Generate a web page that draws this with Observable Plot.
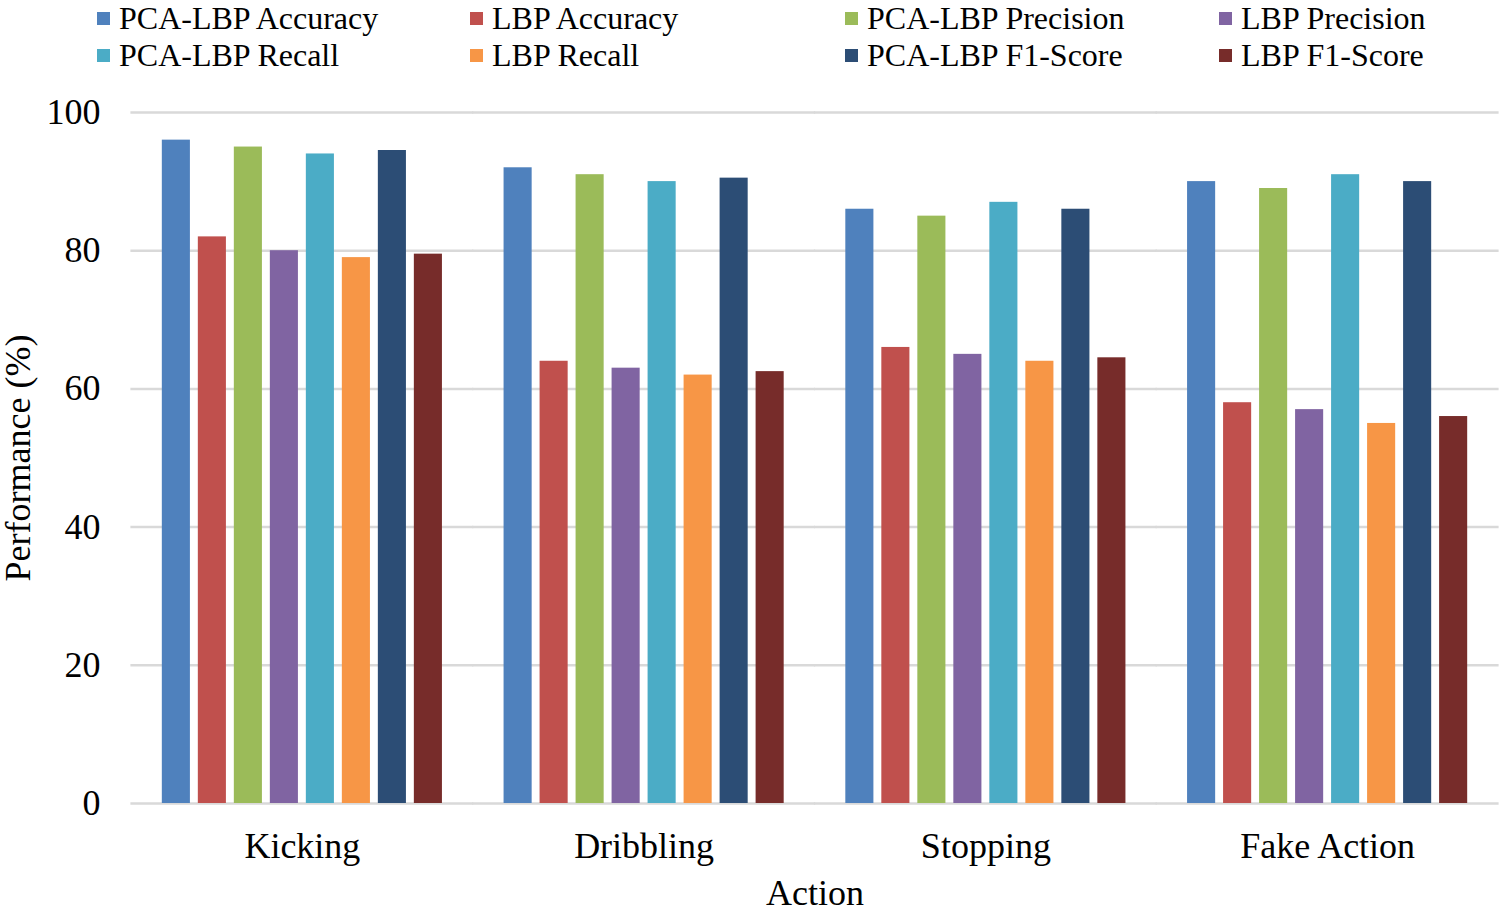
<!DOCTYPE html>
<html>
<head>
<meta charset="utf-8">
<script src="https://cdn.jsdelivr.net/npm/d3@7"></script>
<script src="https://cdn.jsdelivr.net/npm/@observablehq/plot@0.6"></script>
<style>
  html, body { margin: 0; padding: 0; background: #fff; }
  #wrap { width: 1499px; height: 914px; position: relative; font-family: "Liberation Serif", "Times New Roman", serif; color: #000; }
  #legend { position: relative; width: 1499px; height: 80px; }
  .item { position: absolute; height: 36px; display: flex; align-items: center; font-size: 32px; line-height: 36px; white-space: nowrap; }
  .sw { width: 13px; height: 13px; margin-right: 9px; flex: none; position: relative; top: 0px; }
  #chart svg { display: block; }
</style>
</head>
<body>
<div id="wrap">
  <div id="legend"></div>
  <div id="chart"></div>
</div>
<script>
// ---- data ----
const actions = ["Kicking", "Dribbling", "Stopping", "Fake Action"];
const series = ["PCA-LBP Accuracy", "LBP Accuracy", "PCA-LBP Precision", "LBP Precision",
                "PCA-LBP Recall", "LBP Recall", "PCA-LBP F1-Score", "LBP F1-Score"];
const colors = ["#4F81BD", "#C0504D", "#9BBB59", "#8064A2", "#4BACC6", "#F79646", "#2C4D75", "#772C2A"];
const pcaLbpAccuracy  = [96, 92, 86, 90];
const lbpAccuracy     = [82, 64, 66, 58];
const pcaLbpPrecision = [95, 91, 85, 89];
const lbpPrecision    = [80, 63, 65, 57];
const pcaLbpRecall    = [94, 90, 87, 91];
const lbpRecall       = [79, 62, 64, 55];
const pcaLbpF1        = [94.5, 90.5, 86, 90];
const lbpF1           = [79.5, 62.5, 64.5, 56];
const yTicks = [0, 20, 40, 60, 80, 100];
const yLabel = "Performance (%)";
const xLabel = "Action";

const values = [pcaLbpAccuracy, lbpAccuracy, pcaLbpPrecision, lbpPrecision,
                pcaLbpRecall, lbpRecall, pcaLbpF1, lbpF1];
const data = [];
actions.forEach((a, i) => series.forEach((s, j) => data.push({action: a, series: s, value: values[j][i]})));

// ---- legend ----
const legend = document.getElementById("legend");
const colX = [97, 470, 845, 1219];
const rowY = [0, 37];
series.forEach((s, j) => {
  const col = j % 4, row = Math.floor(j / 4);
  const it = document.createElement("div");
  it.className = "item";
  it.style.left = colX[col] + "px";
  it.style.top = rowY[row] + "px";
  const sw = document.createElement("span");
  sw.className = "sw";
  sw.style.background = colors[j];
  const tx = document.createElement("span");
  tx.textContent = s;
  it.appendChild(sw); it.appendChild(tx);
  legend.appendChild(it);
});

// ---- chart ----
const chart = Plot.plot({
  width: 1499,
  height: 834,
  marginTop: 32,
  marginBottom: 111,
  marginLeft: 131,
  marginRight: 1,
  style: {fontFamily: "'Liberation Serif', 'Times New Roman', serif", fontSize: "36px", color: "#000", background: "#fff", overflow: "visible"},
  fx: {domain: actions, paddingInner: 0.134, paddingOuter: 0.067, round: false, label: null},
  x: {domain: series, padding: 0.22, round: false, axis: null},
  y: {domain: [0, 100], ticks: yTicks, axis: null},
  color: {domain: series, range: colors},
  marks: [
    Plot.ruleY(yTicks, {y: d => d, stroke: "#d9d9d9", strokeWidth: 2.5, insetLeft: -23.5, insetRight: -23.5}),
    Plot.barY(data, {fx: "action", x: "series", y: "value", fill: "series"}),
    Plot.axisY({ticks: yTicks, anchor: "left", tickSize: 0, tickPadding: 54, fontSize: 36,
                label: yLabel, labelArrow: "none", labelAnchor: "center", labelOffset: 150}),
    Plot.axisFx({anchor: "bottom", tickSize: 0, tickPadding: 29, fontSize: 36,
                 label: xLabel, labelArrow: "none", labelAnchor: "center", labelOffset: 101})
  ]
});
document.getElementById("chart").appendChild(chart);
</script>
</body>
</html>
